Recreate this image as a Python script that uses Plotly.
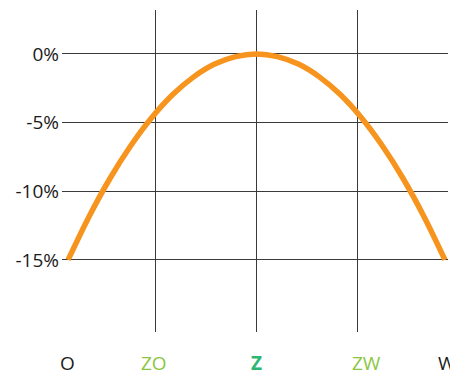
import plotly.graph_objects as go

# Orientation (azimuth, degrees from south; negative = east)
azimuth = [-90, -80, -70, -60, -50, -40, -30, -20, -10, 0, 10, 20, 30, 40, 50, 60, 70, 80, 90]
# Yield difference (%)
yield_pct = [-15.0, -11.85, -9.07, -6.67, -4.63, -2.96, -1.67, -0.74, -0.19, 0.0,
             -0.19, -0.74, -1.67, -2.96, -4.63, -6.67, -9.07, -11.85, -15.0]

y_ticks = [0, -5, -10, -15]
y_tick_labels = ["0%", "-5%", "-10%", "-15%"]

x_grid = [-48.3, 0, 48.3]
x_labels = ["O", "ZO", "Z", "ZW", "W"]
x_label_pos = [-90.5, -49, 0, 52.5, 91.0]
x_label_colors = ["#1a1a1a", "#8cc63f", "#2bb673", "#8cc63f", "#1a1a1a"]
x_label_bold = [False, False, True, False, False]

FONT = "Open Sans"

fig = go.Figure()
fig.add_trace(go.Scatter(
    x=azimuth, y=yield_pct, mode="lines",
    line=dict(color="#f7941d", width=5.5, shape="spline"),
    hoverinfo="skip", showlegend=False,
))

for lab, xp, col, b in zip(x_labels, x_label_pos, x_label_colors, x_label_bold):
    fig.add_annotation(
        x=xp, xref="x", y=-0.095, yref="paper", yanchor="middle",
        text=f"<b>{lab}</b>" if b else lab, showarrow=False,
        font=dict(family=FONT, size=19, color=col),
    )

fig.update_layout(
    width=450, height=376,
    margin=dict(l=62, r=2, t=10, b=44),
    paper_bgcolor="white", plot_bgcolor="white",
    font=dict(family=FONT, size=19, color="#1a1a1a"),
    xaxis=dict(
        range=[-92.9, 91.45], tickvals=x_grid, showticklabels=False,
        showgrid=True, gridcolor="#3a3a3a", gridwidth=1,
        zeroline=False, showline=False, ticks="",
    ),
    yaxis=dict(
        range=[-20.25, 3.2], tickvals=y_ticks, ticktext=y_tick_labels,
        showgrid=True, gridcolor="#3a3a3a", gridwidth=1,
        zeroline=False, showline=False, ticks="",
        ticklabelstandoff=2,
        tickfont=dict(family=FONT, size=19, color="#1a1a1a"),
    ),
)

fig.write_html("out.html", config={"displayModeBar": False},
               post_script="document.body.style.margin='0px';")
